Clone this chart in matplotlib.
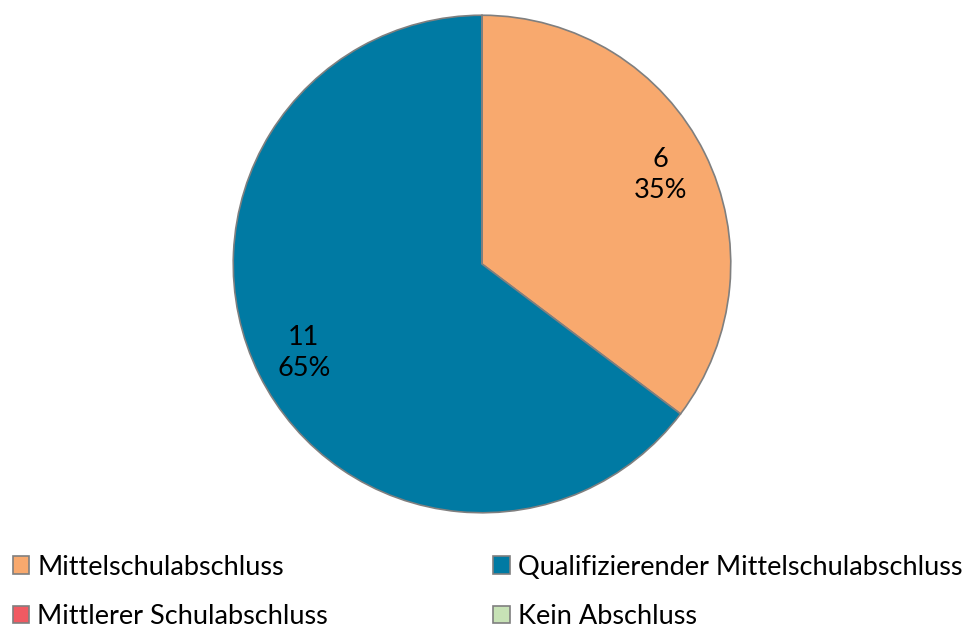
import matplotlib.pyplot as plt

plt.rcParams['font.family'] = ['Lato', 'DejaVu Sans']

# Abschlüsse und Anzahl
categories = ["Mittelschulabschluss", "Qualifizierender Mittelschulabschluss",
              "Mittlerer Schulabschluss", "Kein Abschluss"]
counts = [6, 11, 0, 0]
colors = ["#F8A96E", "#007AA3", "#F05A62", "#C7E2B6"]

total = sum(counts)


def label_fmt(pct):
    n = int(round(pct * total / 100))
    if n == 0:
        return ""
    return f"{n}\n{pct:.0f}%"


fig = plt.figure(figsize=(9.65, 6.29), dpi=100)
ax = fig.add_axes([232 / 965, 115 / 629, 500 / 965, 500 / 629])

wedges, texts, autotexts = ax.pie(
    counts, colors=colors, startangle=90, counterclock=False,
    autopct=label_fmt, pctdistance=0.8,
    wedgeprops=dict(edgecolor="#7F7F7F", linewidth=1.2),
    textprops=dict(fontsize=19.5, color="black", linespacing=1.3),
)
ax.set_xlim(-1.005, 1.005)
ax.set_ylim(-1.005, 1.005)
ax.set_aspect("equal")
ax.axis("off")

# Legende zeilenweise: erst 0 und 1, dann 2 und 3
order = [0, 2, 1, 3]
fig.legend([wedges[i] for i in order], [categories[i] for i in order],
           ncol=2, loc="lower left", bbox_to_anchor=(13 / 965, 0.0),
           borderpad=0, borderaxespad=0,
           frameon=False, fontsize=19.5, handlelength=0.6, handleheight=0.6,
           handletextpad=0.3, columnspacing=6.1, labelspacing=0.9)

plt.savefig("out.png")
